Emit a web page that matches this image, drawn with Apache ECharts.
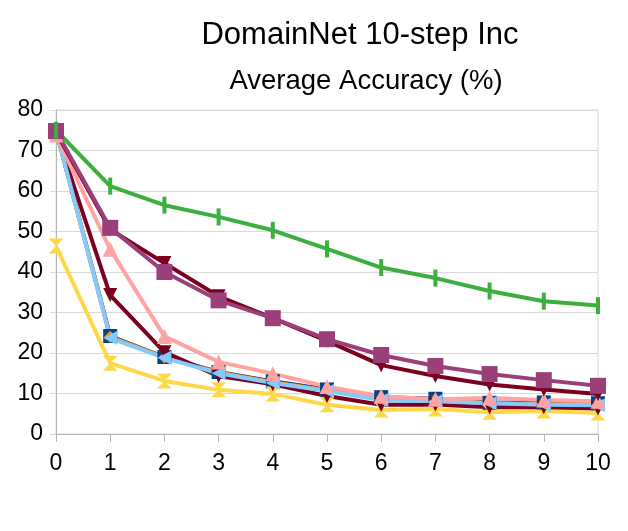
<!DOCTYPE html>
<html><head><meta charset="utf-8">
<script src="https://cdn.jsdelivr.net/npm/echarts@6/dist/echarts.min.js"></script>
<style>html,body{margin:0;padding:0;background:#fff}#c{width:628px;height:531px}</style>
</head><body><div id="c"></div>
<script>
const steps = ['0','1','2','3','4','5','6','7','8','9','10'];
const yTicks = [0,10,20,30,40,50,60,70,80];
const sDarkBlue = [75, 24.2, 19, 15.3, 13, 11, 9.1, 8.7, 7.7, 7.8, 7.6];
const sOrange   = [75, 24.0, 18.9, 15.2, 12.8, 10.8, 8.8, 8.5, 7.6, 7.4, 7.3];
const sYellow   = [46.4, 17.5, 13.1, 10.9, 9.9, 7.2, 5.9, 6.2, 5.4, 5.7, 5.2];
const sDarkRedA = [74.5, 34.3, 20.2, 14.3, 12.3, 9.4, 7.2, 7.3, 6.6, 6.6, 6.3];
const sLightBlue= [75, 23.7, 18.8, 15, 12.6, 10.6, 8.4, 8.1, 7.6, 7.2, 7.1];
const sPink     = [73.8, 45.6, 24.1, 17.8, 14.9, 11.7, 9.3, 8.6, 8.9, 8.4, 8.1];
const sDarkRedB = [74.5, 50.5, 42.2, 34, 28.6, 23, 17, 14.3, 12.2, 11, 9.9];
const sPurple   = [74.8, 50.9, 40, 33, 28.6, 23.4, 19.5, 16.8, 14.8, 13.3, 11.9];
const sGreen    = [75, 61.2, 56.5, 53.6, 50.3, 45.7, 41.1, 38.5, 35.3, 32.8, 31.7];

const TRI_UP = 'path://M5,0 L10,10 L0,10 Z';
const TRI_DOWN = 'path://M0,0 L10,0 L5,10 Z';
const TRI_LEFT = 'path://M0,5 L10,0 L10,10 Z';
const HOURGLASS = 'path://M0,0 L10,0 L5,5 L10,10 L0,10 L5,5 Z';
const VBAR = 'path://M0,0 L2,0 L2,10 L0,10 Z';
const DIAMOND = 'path://M5,0 L10,5 L5,10 L0,5 Z';

function mk(name, data, color, symbol, size) {
  return {
    name, type: 'line', data, symbol, symbolSize: size,
    lineStyle: { color, width: 4 },
    itemStyle: { color },
    emphasis: { disabled: true },
    animation: false
  };
}

const chart = echarts.init(document.getElementById('c'));
chart.setOption({
  animation: false,
  backgroundColor: '#fff',
  title: [
    { text: 'DomainNet 10-step Inc', left: 355, top: 15, textAlign: 'center',
      textStyle: { fontFamily: 'Liberation Sans', fontSize: 31, fontWeight: 'normal', color: '#000' } },
    { text: 'Average Accuracy (%)', left: 361, top: 62, textAlign: 'center',
      textStyle: { fontFamily: 'Liberation Sans', fontSize: 27.5, fontWeight: 'normal', color: '#000' } }
  ],
  grid: { left: 56, right: 30, top: 110, bottom: 97, show: true, borderColor: '#d9d9d9', borderWidth: 1 },
  xAxis: {
    type: 'category', data: steps, boundaryGap: false,
    axisLine: { lineStyle: { color: '#b3b3b3' } },
    axisTick: { show: true, length: 8, lineStyle: { color: '#b3b3b3' } },
    axisLabel: { fontFamily: 'Liberation Sans', fontSize: 23, color: '#000', margin: 18 },
    splitLine: { show: false }
  },
  yAxis: {
    type: 'value', min: yTicks[0], max: yTicks[yTicks.length - 1], interval: 10,
    axisLine: { show: true, lineStyle: { color: '#b3b3b3' } },
    axisTick: { show: true, length: 6, lineStyle: { color: '#d9d9d9' } },
    axisLabel: { fontFamily: 'Liberation Sans', fontSize: 23, color: '#000', margin: 13 },
    splitLine: { lineStyle: { color: '#d9d9d9' } }
  },
  series: [
    mk('A', sDarkBlue, '#004586', 'rect', 14),
    mk('B', sOrange, '#ff8c1a', DIAMOND, 12),
    mk('C', sYellow, '#ffd84a', HOURGLASS, 15),
    mk('D', sDarkRedA, '#7b0020', TRI_DOWN, 14),
    mk('E', sLightBlue, '#83caff', TRI_LEFT, 14),
    mk('F', sPink, '#ffa3a3', TRI_UP, 15),
    mk('G', sDarkRedB, '#7b0020', TRI_DOWN, 14),
    mk('H', sPurple, '#9b3f7b', 'rect', 16),
    mk('I', sGreen, '#3caf3f', VBAR, [4, 17])
  ]
});
</script></body></html>
